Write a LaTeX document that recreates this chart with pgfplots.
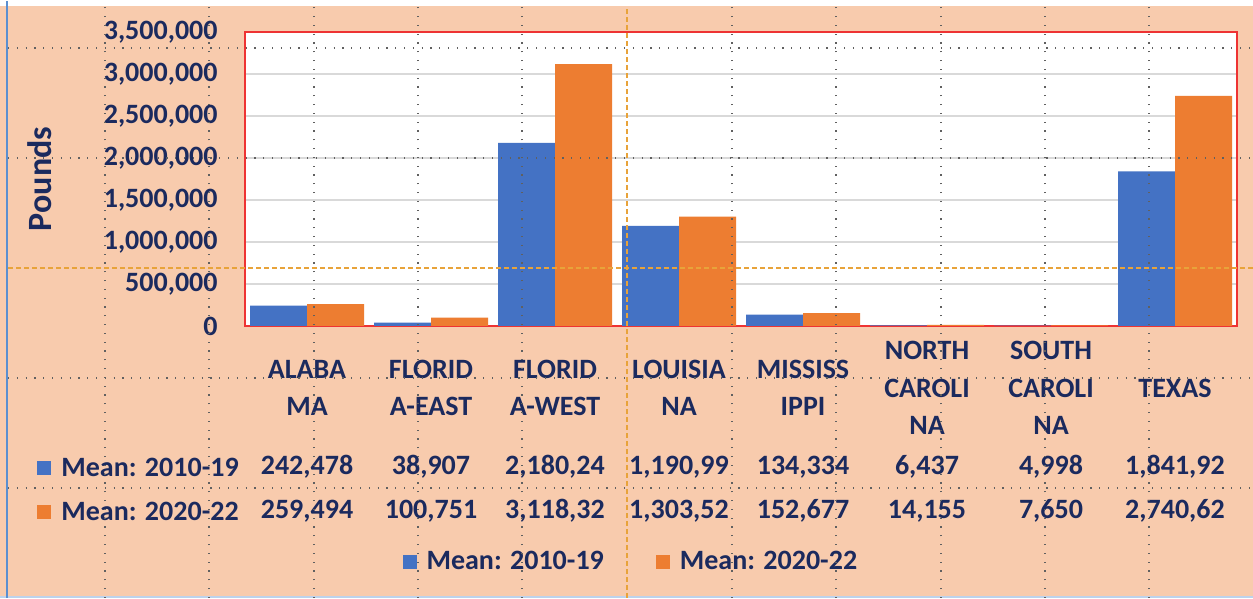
\documentclass[border=0pt]{standalone}
\usepackage{fontspec}
\setmainfont{Carlito}
\usepackage{pgfplots}
\pgfplotsset{compat=1.18}

\definecolor{peach}{HTML}{F8CBAD}
\definecolor{barblue}{HTML}{4472C4}
\definecolor{barorange}{HTML}{ED7D31}
\definecolor{navy}{HTML}{1B2A5E}
\definecolor{frame}{HTML}{EE3333}
\definecolor{brk}{HTML}{E8A33A}
\definecolor{edge}{HTML}{5B8FD0}

\newcommand{\tf}{\fontsize{14}{18.75}\selectfont\bfseries}

\begin{document}
\begin{tikzpicture}[x=1pt,y=1pt]
% page background
\fill[peach] (0,0) rectangle (626.5,298.5);
\fill[white] (0,296) rectangle (626.5,298.5);
\fill[edge!40] (0,0) rectangle (626.5,1);
\draw[edge, line width=1pt] (3.5,0) -- (3.5,298.5);
\useasboundingbox (0,0) rectangle (626.5,298.5);

\begin{axis}[
  at={(122.5pt,136pt)}, anchor=south west,
  scale only axis, width=496pt, height=147pt,
  ybar=0pt, bar width=28.5pt,
  xmin=0.5, xmax=8.5, ymin=0, ymax=3500000,
  xtick=\empty,
  ytick={0,500000,1000000,1500000,2000000,2500000,3000000,3500000},
  scaled y ticks=false,
  yticklabel style={/pgf/number format/fixed, /pgf/number format/precision=0,
    /pgf/number format/1000 sep={,}, /pgf/number format/assume math mode=true},
  yticklabel style={anchor=east, inner sep=0pt, xshift=-13.5pt, font=\tf, text=navy},
  ymajorgrids, grid style={line width=0.6pt, gray!30},
  major tick length=0pt,
  axis line style={frame, line width=0.6pt},
  axis background/.style={fill=white},
  legend style={at={(0.39,-0.803)}, anchor=center, draw=none, fill=none,
    legend columns=2, font=\tf, text=navy,
    /tikz/every odd column/.append style={column sep=3pt},
    /tikz/every even column/.append style={column sep=24pt}},
  legend image code/.code={\fill[#1,draw=none] (0pt,-3.5pt) rectangle (7pt,3.5pt);},
]
\addplot[fill=barblue, draw=none] coordinates {
  (1,242478) (2,38907) (3,2180240) (4,1190990) (5,134334) (6,6437) (7,4998) (8,1841920)};
\addlegendentry{Mean: 2010-19}
\addplot[fill=barorange, draw=none] coordinates {
  (1,259494) (2,100751) (3,3118320) (4,1303520) (5,152677) (6,14155) (7,7650) (8,2740620)};
\addlegendentry{Mean: 2020-22}
\end{axis}

% y label
\node[rotate=90, font=\fontsize{17}{20}\selectfont\bfseries, text=navy] at (20,209.5) {Pounds};

% data table: category names
\foreach \x/\lab in {153.5/{ALABA\\MA}, 215.5/{FLORID\\A-EAST}, 277.5/{FLORID\\A-WEST},
  339.5/{LOUISIA\\NA}, 401.5/{MISSISS\\IPPI}, 463.5/{NORTH\\CAROLI\\NA},
  525.5/{SOUTH\\CAROLI\\NA}, 587.5/{TEXAS}}
  \node[align=center, font=\tf, text=navy] at (\x,105) {\lab};

% data table: row keys
\node[anchor=west, font=\tf, text=navy, inner sep=0pt] at (18.5,65.5)
  {\textcolor{barblue}{\rule[0.3pt]{7pt}{7pt}}\hspace{5pt}Mean: 2010-19};
\node[anchor=west, font=\tf, text=navy, inner sep=0pt] at (18.5,43.5)
  {\textcolor{barorange}{\rule[0.3pt]{7pt}{7pt}}\hspace{5pt}Mean: 2020-22};

% data table: values
\foreach \x/\a/\b in {153.5/{242,478}/{259,494}, 215.5/{38,907}/{100,751}, 277.5/{2,180,24}/{3,118,32},
  339.5/{1,190,99}/{1,303,52}, 401.5/{134,334}/{152,677}, 463.5/{6,437}/{14,155},
  525.5/{4,998}/{7,650}, 587.5/{1,841,92}/{2,740,62}}{
  \node[font=\tf, text=navy] at (\x,65.5) {\a};
  \node[font=\tf, text=navy] at (\x,43.5) {\b};
}

% sheet cell borders showing through
\foreach \x in {52.5,104.5,157,209,261,366,418,470.5,522.5,574.5}
  \draw[gray!75!black, line width=0.6pt, dash pattern=on 0.6pt off 3.8pt] (\x,0) -- (\x,296);
\foreach \y in {275,220,110,55}
  \draw[gray!75!black, line width=0.6pt, dash pattern=on 0.6pt off 3.8pt] (4,\y) -- (626.5,\y);
\draw[brk, line width=0.7pt, dash pattern=on 2.5pt off 1.5pt] (4,165) -- (626.5,165);
\draw[brk, line width=0.7pt, dash pattern=on 2.5pt off 1.5pt] (313.5,0) -- (313.5,296);
\end{tikzpicture}
\end{document}
